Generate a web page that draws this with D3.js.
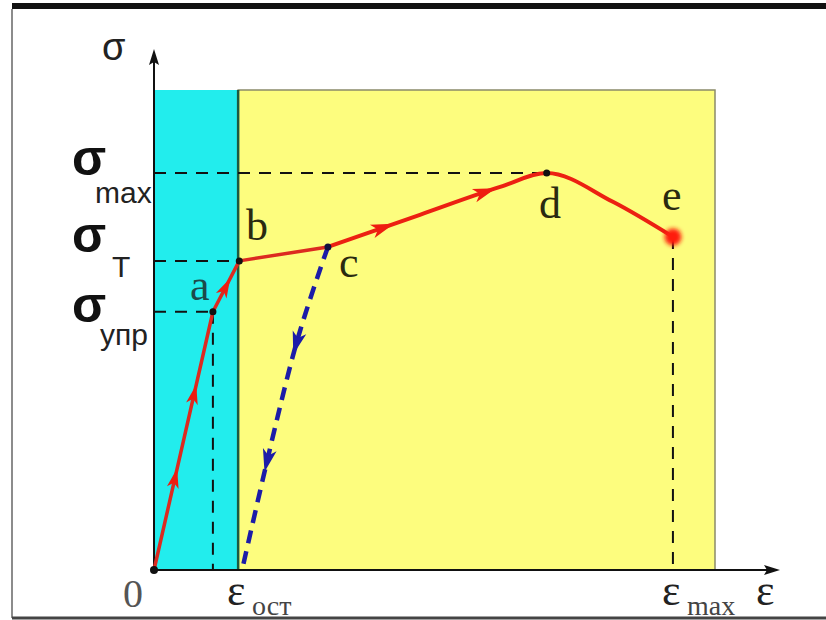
<!DOCTYPE html>
<html>
<head>
<meta charset="utf-8">
<script src="https://cdn.jsdelivr.net/npm/d3@7"></script>
<style>
  body { margin: 0; background: #fff; }
</style>
</head>
<body>
<div id="graph"></div>
<script>
// stress-strain diagram: sigma vs epsilon
// data units are arbitrary (0..10 on both axes inside the box)

// loading curve 0 -> a -> b -> c (straight parts)
var loadX = [0, 1.05, 1.52, 3.10]
var loadY = [0, 5.38, 6.44, 6.73]
// hardening + necking c -> d -> e (smooth part)
var hardX = [3.10, 4.74, 6.17, 7.00, 8.18, 9.25]
var hardY = [6.73, 7.40, 7.98, 8.27, 7.67, 6.94]
// unloading line from c back to eps_ost
var unloadX = [3.10, 2.53, 1.57]
var unloadY = [6.73, 4.69, 0]
// point names
var pointNames = ["a", "b", "c", "d", "e"]
var pointX = [1.05, 1.52, 3.10, 7.00, 9.25]
var pointY = [5.38, 6.44, 6.73, 8.27, 6.94]
// arrows along the red curve / blue line
var redArrowX = [0.39, 0.70, 1.28, 4.08, 5.94]
var redArrowY = [1.94, 3.69, 5.92, 7.25, 7.85]
var blueArrowX = [2.53, 2.00]
var blueArrowY = [4.69, 2.25]
// boundary of elastic zone
var elasticX = 1.5

var width = 826, height = 620

var svg = d3.select("#graph")
    .append("svg")
    .attr("width", width)
    .attr("height", height)

// frame of the picture
svg.append("line")
    .attr("x1", 12).attr("x2", width).attr("y1", 6).attr("y2", 6)
    .style("stroke", "#111").style("stroke-width", 6)
svg.append("line")
    .attr("x1", 12).attr("x2", 12).attr("y1", 9).attr("y2", 618)
    .style("stroke", "#666").style("stroke-width", 1.5)
svg.append("line")
    .attr("x1", 12).attr("x2", width).attr("y1", 618).attr("y2", 618)
    .style("stroke", "#444").style("stroke-width", 3)

var x = d3.scaleLinear().domain([0, 10]).range([154, 715])
var y = d3.scaleLinear().domain([0, 10]).range([570, 90])

// blur for point e
var defs = svg.append("defs")
defs.append("filter").attr("id", "blur")
    .attr("x", "-50%").attr("y", "-50%").attr("width", "200%").attr("height", "200%")
    .append("feGaussianBlur").attr("stdDeviation", 2)

// background zones
svg.append("rect")
    .attr("x", x(elasticX)).attr("y", y(10))
    .attr("width", x(10) - x(elasticX)).attr("height", y(0) - y(10))
    .style("fill", "#fdfd7e")
    .style("stroke", "#8a8a6a").style("stroke-width", 1.5)
svg.append("rect")
    .attr("x", x(0)).attr("y", y(10))
    .attr("width", x(elasticX) - x(0)).attr("height", y(0) - y(10))
    .style("fill", "#22eded")
svg.append("line")
    .attr("x1", x(elasticX)).attr("x2", x(elasticX))
    .attr("y1", y(10)).attr("y2", y(0))
    .style("stroke", "#1c5a40").style("stroke-width", 2.5)

// dashed guide lines
var dash = function(x1, y1, x2, y2) {
    svg.append("line")
        .attr("x1", x(x1)).attr("y1", y(y1))
        .attr("x2", x(x2)).attr("y2", y(y2))
        .style("stroke", "#111")
        .style("stroke-width", 2)
        .style("stroke-dasharray", "12,9")
}
dash(0, pointY[3], pointX[3], pointY[3])   // sigma max
dash(0, pointY[1], pointX[1], pointY[1])   // sigma T
dash(0, pointY[0], pointX[0], pointY[0])   // sigma upr
dash(pointX[0], pointY[0], pointX[0], 0)
dash(pointX[4], pointY[4], pointX[4], 0)

// axes with arrows
svg.append("line")
    .attr("x1", x(0)).attr("y1", y(0)).attr("x2", 772).attr("y2", y(0))
    .style("stroke", "#111").style("stroke-width", 2)
svg.append("path")
    .attr("d", `M780,${y(0)} L764,${y(0) - 5} L767,${y(0)} L764,${y(0) + 5} Z`)
    .style("fill", "#111")
svg.append("line")
    .attr("x1", x(0)).attr("y1", y(0)).attr("x2", x(0)).attr("y2", 58)
    .style("stroke", "#111").style("stroke-width", 2)
svg.append("path")
    .attr("d", `M${x(0)},49 L${x(0) - 5},65 L${x(0)},62 L${x(0) + 5},65 Z`)
    .style("fill", "#111")

// unloading line (blue dashed)
var unloadPath = svg.append("path")
    .datum(d3.range(unloadX.length))
    .attr("d", d3.line()
        .x(function(i) { return x(unloadX[i]) })
        .y(function(i) { return y(unloadY[i]) })
        .curve(d3.curveCatmullRom))
    .style("fill", "none")
    .style("stroke", "#1c1ca8")
    .style("stroke-width", 4.5)
    .style("stroke-dasharray", "13,8")

// red curve
var loadPath = svg.append("path")
    .datum(d3.range(loadX.length))
    .attr("d", d3.line()
        .x(function(i) { return x(loadX[i]) })
        .y(function(i) { return y(loadY[i]) }))
    .style("fill", "none")
    .style("stroke", "#dc2a20")
    .style("stroke-width", 3.5)
    .style("stroke-linejoin", "round")
var hardPath = svg.append("path")
    .datum(d3.range(hardX.length))
    .attr("d", d3.line()
        .x(function(i) { return x(hardX[i]) })
        .y(function(i) { return y(hardY[i]) })
        .curve(d3.curveMonotoneX))
    .style("fill", "none")
    .style("stroke", "#ec2012")
    .style("stroke-width", 4)

// put an arrowhead on a path near a data point
function arrowOn(pathSel, px, py, color, s) {
    var node = pathSel.node()
    var len = node.getTotalLength()
    var best = 0, bestD = 1e9
    for (var l = 0; l <= len; l += 0.5) {
        var p = node.getPointAtLength(l)
        var dd = (p.x - x(px)) * (p.x - x(px)) + (p.y - y(py)) * (p.y - y(py))
        if (dd < bestD) { bestD = dd; best = l }
    }
    var p0 = node.getPointAtLength(Math.max(0, best - 2))
    var p1 = node.getPointAtLength(Math.min(len, best + 2))
    var ang = Math.atan2(p1.y - p0.y, p1.x - p0.x) * 180 / Math.PI
    var tip = node.getPointAtLength(best)
    svg.append("path")
        .attr("d", "M10,0 L-13,-7 L-7,0 L-13,7 Z")
        .attr("transform", `translate(${tip.x},${tip.y}) rotate(${ang}) scale(${s})`)
        .style("fill", color)
}
// which path each red arrow belongs to
redArrowX.forEach(function(ax, i) {
    var onLoad = ax < loadX[loadX.length - 1]
    arrowOn(onLoad ? loadPath : hardPath, ax, redArrowY[i], "#ee1d10", onLoad ? 0.85 : 1)
})
blueArrowX.forEach(function(ax, i) {
    arrowOn(unloadPath, ax, blueArrowY[i], "#1c1ca8", 1)
})

// points
svg.append("circle").attr("cx", x(0)).attr("cy", y(0)).attr("r", 4).style("fill", "#111")
svg.selectAll("pt")
    .data(pointNames.slice(0, 4))
    .enter().append("circle")
        .attr("cx", function(d, i) { return x(pointX[i]) })
        .attr("cy", function(d, i) { return y(pointY[i]) })
        .attr("r", 3.5)
        .style("fill", function(d) { return d == "c" ? "#101040" : "#111" })
svg.append("circle")
    .attr("cx", x(pointX[4])).attr("cy", y(pointY[4]))
    .attr("r", 8.5)
    .attr("filter", "url(#blur)")
    .style("fill", "#ff1a0a")

// point labels
var labelPos = [[190, 300], [246, 240], [339, 277], [539, 218], [662, 210]]
svg.selectAll("lbl")
    .data(pointNames)
    .enter().append("text")
        .attr("x", function(d, i) { return labelPos[i][0] })
        .attr("y", function(d, i) { return labelPos[i][1] })
        .text(function(d) { return d })
        .style("font-family", "'Liberation Serif', 'Times New Roman', serif")
        .style("font-size", "44px")
        .style("fill", function(d) { return d == "a" ? "#1d4a4a" : "#2a2a10" })

// sigma labels on the y side
var sans = "'Liberation Sans', Arial, sans-serif"
svg.append("text").attr("x", 102).attr("y", 60).text("σ")
    .style("font-family", sans).style("font-size", "38px").style("fill", "#222")

var sigmaLabels = [["max", 175, 95, 203], ["T", 252, 112, 277], ["упр", 322, 100, 345]]
sigmaLabels.forEach(function(s) {
    svg.append("text").attr("x", 72).attr("y", s[1]).text("σ")
        .style("font-family", sans).style("font-size", "50px")
        .style("font-weight", "bold").style("fill", "#111")
    svg.append("text").attr("x", s[2]).attr("y", s[3]).text(s[0])
        .style("font-family", sans).style("font-size", "30px").style("fill", "#222")
})

// x side labels
var serif = "'Liberation Serif', 'Times New Roman', serif"
svg.append("text").attr("x", 123).attr("y", 607).text("0")
    .style("font-family", serif).style("font-size", "40px").style("fill", "#555")
var epsLabels = [["ост", 227], ["max", 662], ["", 756]]
epsLabels.forEach(function(s) {
    svg.append("text").attr("x", s[1]).attr("y", 605).text("ε")
        .style("font-family", serif).style("font-size", "44px").style("fill", "#222")
    svg.append("text").attr("x", s[1] + 25).attr("y", 615).text(s[0])
        .style("font-family", serif).style("font-size", "28px").style("fill", "#444")
})
</script>
</body>
</html>
